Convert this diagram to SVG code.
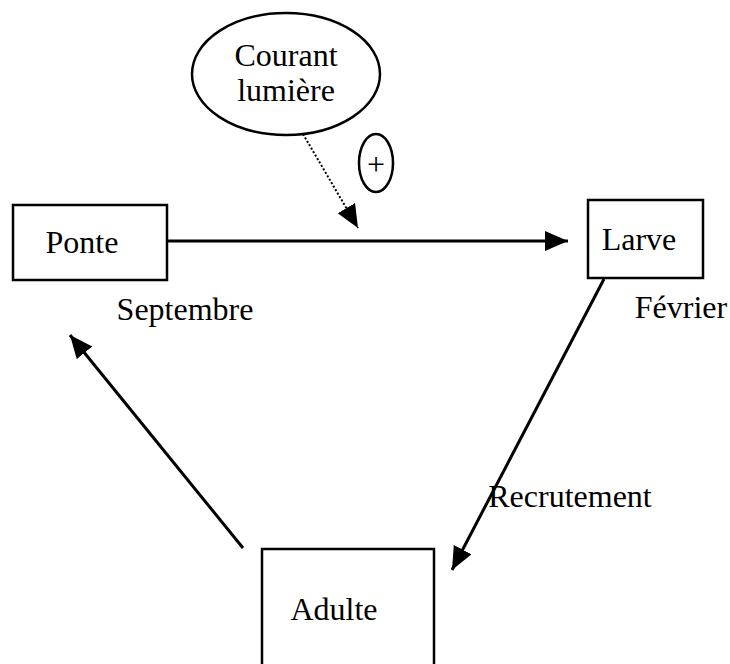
<svg xmlns="http://www.w3.org/2000/svg" width="730" height="664" viewBox="0 0 730 664">
<style>
text{font-family:"Liberation Serif","Times New Roman",serif;font-size:32px;fill:#000}
.box{fill:#fff;stroke:#000;stroke-width:2.5}
.edge{stroke:#000;stroke-width:3;fill:none}
.dot{stroke:#000;stroke-width:2;stroke-dasharray:2 2;fill:none}
</style>
<defs>
<marker id="ah" markerUnits="userSpaceOnUse" markerWidth="26" markerHeight="22" refX="23" refY="10" orient="auto">
<path d="M0,0 L23,10 L0,20 Z" fill="#000"/>
</marker>
</defs>
<rect width="730" height="664" fill="#fff"/>
<g id="courant">
<ellipse cx="286" cy="74" rx="94" ry="61" class="box"/>
<text x="286" y="66" text-anchor="middle">Courant</text>
<text x="286" y="101" text-anchor="middle">lumière</text>
</g>
<g id="plus">
<ellipse cx="376" cy="163" rx="17" ry="29" class="box"/>
<text x="376" y="175" text-anchor="middle" font-size="34">+</text>
</g>
<g id="ponte">
<rect x="13" y="205" width="154" height="75" class="box"/>
<text x="82" y="253" text-anchor="middle">Ponte</text>
</g>
<g id="larve">
<rect x="588" y="200" width="115" height="78" class="box"/>
<text x="639" y="250" text-anchor="middle">Larve</text>
</g>
<g id="adulte">
<rect x="262" y="549" width="172" height="130" class="box"/>
<text x="334" y="620" text-anchor="middle">Adulte</text>
</g>
<g id="labels">
<text x="185" y="320" text-anchor="middle">Septembre</text>
<text x="681" y="318" text-anchor="middle">Février</text>
<text x="570" y="507" text-anchor="middle">Recrutement</text>
</g>
<g id="connectors">
<line x1="167" y1="241" x2="568" y2="241" class="edge" marker-end="url(#ah)"/>
<line x1="303" y1="134" x2="358" y2="228" class="dot" marker-end="url(#ah)"/>
<line x1="604" y1="279" x2="452" y2="570" class="edge" marker-end="url(#ah)"/>
<line x1="243" y1="548" x2="70" y2="335" class="edge" marker-end="url(#ah)"/>
</g>
</svg>
